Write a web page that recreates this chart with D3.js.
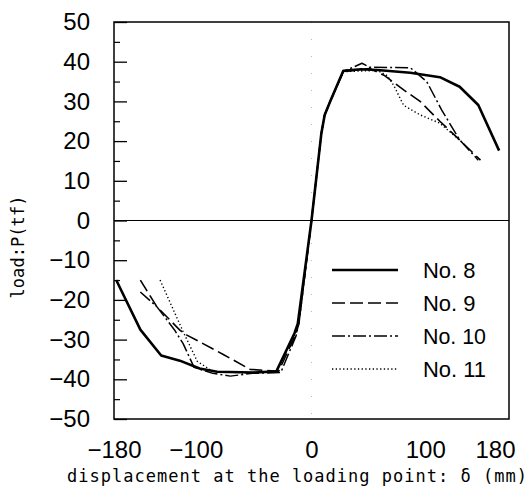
<!DOCTYPE html>
<html>
<head>
<meta charset="utf-8">
<script src="https://cdn.jsdelivr.net/npm/d3@7"></script>
<style>
  html, body { margin: 0; padding: 0; background: #fff; }
  svg { display: block; }
</style>
</head>
<body>
<div id="chart"></div>
<script>
// tick values
const xTicks = [-180, -100, 0, 100, 180];
const yTicks = [-50, -40, -30, -20, -10, 0, 10, 20, 30, 40, 50];
const yMinorTicks = [-45, -35, -25, -15, -5, 5, 15, 25, 35, 45];

// series: [displacement (mm), load (tf)]
const no8 = [
  [-178, -15], [-156, -27.5], [-137, -34], [-120, -35.3], [-102, -37.3], [-86, -38.1],
  [-53, -38.3], [-32, -38], [-15.5, -28.4], [-12.5, -26], [0, 0], [9, 22], [12, 26.6],
  [17, 30], [29, 37.7], [45, 38.1], [60, 37.9], [90, 37.2], [117, 36.1], [135, 33.7],
  [152, 29.1], [171, 17.6],
];
const no9 = [
  [-156, -15], [-141, -21.7], [-120, -27.6], [-114, -28.8], [-80, -33.8], [-56, -37.5],
  [-30, -38], [-14.5, -28.8], [-11.5, -26], [0, 0], [9, 22], [12, 26.6], [17, 30],
  [29, 37.5], [53, 38.3], [66, 36.6], [84, 32.9], [99, 30], [117, 25], [135, 20.3], [154, 15.2],
];
const no10 = [
  [-156, -18], [-141, -21.7], [-125, -27.5], [-117, -31], [-107, -37], [-90, -38.5],
  [-74, -39.2], [-54, -38.5], [-28, -38.3], [-14, -29], [-11, -25], [0, 0], [9, 22],
  [12, 26.6], [17, 30], [29, 37.5], [46, 39.6], [53, 38.6], [90, 38.5], [105, 35],
  [118.7, 27.8], [135, 20.3], [152, 15.2],
];
const no11 = [
  [-138, -15], [-117, -28], [-104, -35.5], [-90, -38], [-60, -38.4], [-32, -38],
  [-15, -28.5], [-12, -26], [0, 0], [9, 22], [12, 26.6], [17, 30], [29, 37.5], [60, 37.8],
  [69, 36.5], [75, 34], [84, 29], [99, 26.6], [117, 24.5], [138, 19.5],
];
const seriesNames = ["No. 8", "No. 9", "No. 10", "No. 11"];

const width = 532;
const height = 504;
const marginTop = 22;
const marginRight = 23;
const marginBottom = 85;
const marginLeft = 114;
const numFont = "'Liberation Sans', Arial, sans-serif";
const monoFont = "'DejaVu Sans Mono', 'Liberation Mono', monospace";

// line style per series
const styles = [
  { width: 2.6, dash: null },
  { width: 1.6, dash: "13,5" },
  { width: 1.5, dash: "13,3,2,3" },
  { width: 1.4, dash: "1.3,2.4" },
];
const seriesData = [no8, no9, no10, no11];

const svg = d3
  .select("#chart")
  .append("svg")
  .attr("width", width)
  .attr("height", height);

const x = d3
  .scaleLinear()
  .domain([-180, 180])
  .range([marginLeft, width - marginRight]);
const y = d3
  .scaleLinear()
  .domain([-50, 50])
  .range([height - marginBottom, marginTop]);

// faint dotted line at x = 0
svg
  .append("line")
  .attr("x1", x(0))
  .attr("x2", x(0))
  .attr("y1", y(50))
  .attr("y2", y(-50))
  .attr("stroke", "#bbb")
  .attr("stroke-width", 1)
  .attr("stroke-dasharray", "1,16");

// zero line
svg
  .append("line")
  .attr("x1", x(-180))
  .attr("x2", x(180))
  .attr("y1", y(0))
  .attr("y2", y(0))
  .attr("stroke", "#000")
  .attr("stroke-width", 1.2);

// frame
svg
  .append("rect")
  .attr("x", x(-180))
  .attr("y", y(50))
  .attr("width", x(180) - x(-180))
  .attr("height", y(-50) - y(50))
  .attr("fill", "none")
  .attr("stroke", "#000")
  .attr("stroke-width", 1.5);

// y axis: major ticks inward + labels
svg
  .append("g")
  .attr("transform", `translate(${marginLeft},0)`)
  .call(d3.axisLeft(y).tickValues(yTicks).tickSize(-13).tickPadding(24))
  .call(g => g.select(".domain").remove())
  .call(g => g.selectAll(".tick line").attr("stroke", "#000").attr("stroke-width", 1.3))
  .call(g =>
    g
      .selectAll(".tick text")
      .attr("fill", "#000")
      .style("font-family", numFont)
      .style("font-size", "24px"),
  );

// y axis: minor ticks
svg
  .append("g")
  .attr("transform", `translate(${marginLeft},0)`)
  .call(d3.axisLeft(y).tickValues(yMinorTicks).tickSize(-6).tickFormat(""))
  .call(g => g.select(".domain").remove())
  .call(g => g.selectAll(".tick line").attr("stroke", "#000").attr("stroke-width", 1.2));

// x axis labels
svg
  .append("g")
  .attr("transform", `translate(0,${height - marginBottom})`)
  .call(d3.axisBottom(x).tickValues(xTicks).tickSize(0).tickPadding(22))
  .call(g => g.select(".domain").remove())
  .call(g =>
    g
      .selectAll(".tick text")
      .attr("fill", "#000")
      .attr("dx", d => (d === 180 ? -14 : d === -100 ? -6 : d === 100 ? 4 : 0))
      .style("font-family", numFont)
      .style("font-size", "24px"),
  );

// axis titles
svg
  .append("text")
  .attr("x", 297)
  .attr("y", 482)
  .attr("text-anchor", "middle")
  .attr("textLength", 460)
  .attr("lengthAdjust", "spacing")
  .style("font-family", monoFont)
  .style("font-size", "17px")
  .text("displacement at the loading point: δ (mm)");

svg
  .append("text")
  .attr("transform", "translate(24,247) rotate(-90)")
  .attr("text-anchor", "middle")
  .attr("textLength", 103)
  .attr("lengthAdjust", "spacing")
  .style("font-family", monoFont)
  .style("font-size", "17px")
  .text("load:P(tf)");

// curves
const line = d3
  .line()
  .x(d => x(d[0]))
  .y(d => y(d[1]));

svg
  .append("g")
  .selectAll("path")
  .data(seriesData)
  .join("path")
  .attr("d", line)
  .attr("fill", "none")
  .attr("stroke", "#000")
  .attr("stroke-width", (d, i) => styles[i].width)
  .attr("stroke-dasharray", (d, i) => styles[i].dash)
  .attr("stroke-linejoin", "round");

// legend
const legend = svg
  .append("g")
  .attr("transform", "translate(332,270)")
  .selectAll("g")
  .data(seriesNames)
  .join("g")
  .attr("transform", (d, i) => `translate(0,${i * 33})`);

legend
  .append("line")
  .attr("x1", 0)
  .attr("x2", 66)
  .attr("stroke", "#000")
  .attr("stroke-width", (d, i) => styles[i].width)
  .attr("stroke-dasharray", (d, i) => styles[i].dash);

legend
  .append("text")
  .attr("x", 91)
  .attr("dy", "0.36em")
  .attr("textLength", d => d.length * 10.5)
  .attr("lengthAdjust", "spacingAndGlyphs")
  .style("font-family", numFont)
  .style("font-size", "22px")
  .text(d => d);
</script>
</body>
</html>
